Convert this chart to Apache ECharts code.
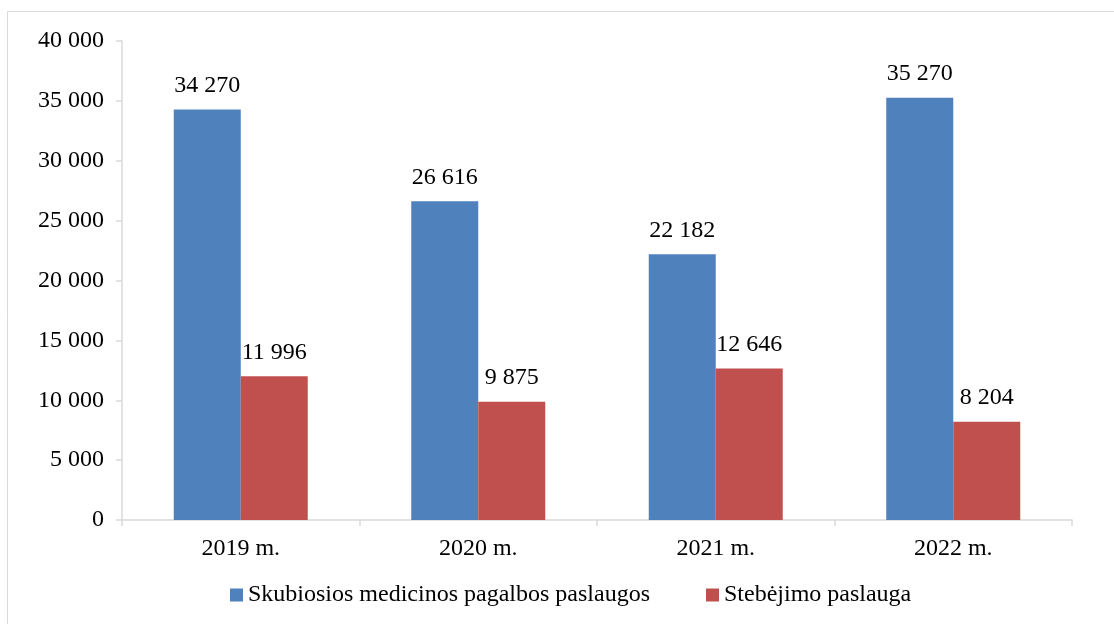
<!DOCTYPE html>
<html>
<head>
<meta charset="utf-8">
<script src="https://cdn.jsdelivr.net/npm/echarts@6/dist/echarts.min.js"></script>
<style>
html, body { margin: 0; padding: 0; background: #fff; }
#chart { width: 1114px; height: 624px; }
</style>
</head>
<body>
<div id="chart"></div>
<script>
const years = ["2019 m.", "2020 m.", "2021 m.", "2022 m."];
const skubiosios = [34270, 26616, 22182, 35270];
const stebejimo = [11996, 9875, 12646, 8204];
const seriesNames = ["Skubiosios medicinos pagalbos paslaugos", "Stebėjimo paslauga"];

const fmt = (v) => String(v).replace(/\B(?=(\d{3})+(?!\d))/g, " ");
const font = "'Liberation Serif', 'Times New Roman', serif";
const fs = 24;

const myChart = echarts.init(document.getElementById("chart"));
myChart.setOption({
    animation: false,
    textStyle: { fontFamily: font },
    graphic: [{
        type: "rect",
        shape: { x: 7.5, y: 11.5, width: 1200, height: 700 },
        style: { fill: "none", stroke: "#d9d9d9", lineWidth: 1 },
        silent: true
    }],
    grid: { left: 122, right: 42, top: 41, bottom: 104 },
    legend: {
        data: seriesNames,
        bottom: 12,
        left: 225,
        itemWidth: 13,
        itemHeight: 13,
        itemGap: 56,
        icon: "rect",
        textStyle: { fontFamily: font, fontSize: fs, color: "#000" }
    },
    xAxis: {
        type: "category",
        data: years,
        axisLine: { lineStyle: { color: "#d9d9d9", width: 1.5 } },
        axisTick: { show: true, length: 6, lineStyle: { color: "#d9d9d9", width: 1.5 } },
        axisLabel: { fontFamily: font, fontSize: fs, color: "#000", margin: 17 }
    },
    yAxis: {
        type: "value",
        min: 0,
        max: 40000,
        interval: 5000,
        splitLine: { show: false },
        axisLine: { show: true, lineStyle: { color: "#d9d9d9", width: 1.5 } },
        axisTick: { show: true, length: 6, lineStyle: { color: "#d9d9d9", width: 1.5 } },
        axisLabel: {
            fontFamily: font, fontSize: fs, color: "#000", margin: 18,
            formatter: (v) => fmt(v)
        }
    },
    series: [
        {
            name: seriesNames[0],
            type: "bar",
            data: skubiosios,
            barWidth: 67,
            barGap: "0%",
            itemStyle: { color: "#4F81BD" },
            label: {
                show: true, position: "top", distance: 12,
                fontFamily: font, fontSize: fs, color: "#000",
                formatter: (p) => fmt(p.value)
            }
        },
        {
            name: seriesNames[1],
            type: "bar",
            data: stebejimo,
            barWidth: 67,
            barGap: "0%",
            itemStyle: { color: "#C0504D" },
            label: {
                show: true, position: "top", distance: 12,
                fontFamily: font, fontSize: fs, color: "#000",
                formatter: (p) => fmt(p.value)
            }
        }
    ]
});
</script>
</body>
</html>
